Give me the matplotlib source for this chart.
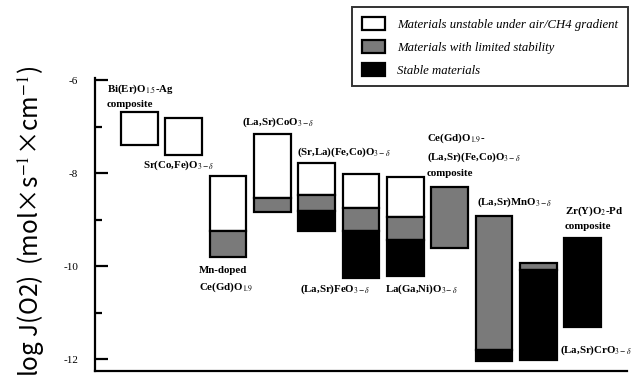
import numpy as np
import matplotlib
matplotlib.use("Agg")
import matplotlib.pyplot as plt
from matplotlib.patches import Patch

# ── data ──────────────────────────────────────────────────────────────────────
positions = np.arange(1, 12)
# top of each bar, start of grey part, start of black part, bottom (nan = none)
tops        = [-6.69, -6.81, -8.06, -7.16, -7.78, -8.01, -8.07, -8.29, -8.91, -9.93, -9.38]
grey_starts = [np.nan, np.nan, -9.25, -8.53, -8.46, -8.74, -8.93, -8.29, -8.91, -9.93, np.nan]
black_starts = [np.nan, np.nan, np.nan, np.nan, -8.82, -9.25, -9.44, np.nan, -11.80, -10.08, -9.38]
bottoms     = [-7.39, -7.60, -9.79, -8.83, -9.23, -10.24, -10.21, -9.60, -12.04, -12.02, -11.30]

labels = [
    "Bi(Er)O$_{1.5}$-Ag\ncomposite",
    "Sr(Co,Fe)O$_{3-\\delta}$",
    "Mn-doped\nCe(Gd)O$_{1.9}$",
    "(La,Sr)CoO$_{3-\\delta}$",
    "(Sr,La)(Fe,Co)O$_{3-\\delta}$",
    "(La,Sr)FeO$_{3-\\delta}$",
    "La(Ga,Ni)O$_{3-\\delta}$",
    "Ce(Gd)O$_{1.9}$-\n(La,Sr)(Fe,Co)O$_{3-\\delta}$\ncomposite",
    "(La,Sr)MnO$_{3-\\delta}$",
    "(La,Sr)CrO$_{3-\\delta}$",
    "Zr(Y)O$_2$-Pd\ncomposite",
]
# label anchor (x, y) in data units, text centred vertically on it
label_x = [0.27, 1.08, 2.35, 3.32, 4.55, 4.62, 6.54, 7.49, 8.62, 10.49, 10.6]
label_y = [-6.33, -7.82, -10.3, -6.9, -7.55, -10.5, -10.5, -7.6, -8.62, -11.8, -8.95]

legend_labels = [
    "Materials unstable under air/CH4 gradient",
    "Materials with limited stability",
    "Stable materials",
]

yticks = [-6, -8, -10, -12]
colors = ["white", "#7a7a7a", "black"]

# ── figure ────────────────────────────────────────────────────────────────────
plt.rcParams["mathtext.fontset"] = "stix"
fig = plt.figure(figsize=(6.43, 3.82), dpi=100)
ax = fig.add_axes([95 / 643, 11 / 382, (627 - 95) / 643, (371 - 78) / 382])

w = 0.82
for x, t, g, b, bot in zip(positions, tops, grey_starts, black_starts, bottoms):
    # white part
    white_end = g if not np.isnan(g) else (b if not np.isnan(b) else bot)
    if white_end < t:
        ax.bar(x, t - white_end, bottom=white_end, width=w, color=colors[0],
               edgecolor="black", linewidth=1.6)
    if not np.isnan(g):
        grey_end = b if not np.isnan(b) else bot
        ax.bar(x, g - grey_end, bottom=grey_end, width=w, color=colors[1],
               edgecolor="black", linewidth=1.6)
    if not np.isnan(b):
        ax.bar(x, b - bot, bottom=bot, width=w, color=colors[2],
               edgecolor="black", linewidth=1.6)

for lab, lx, ly in zip(labels, label_x, label_y):
    ax.text(lx, ly, lab, fontsize=7.8, family="Liberation Serif",
            fontweight="bold", ha="left", va="center", linespacing=1.6)

ax.set_xlim(0, 12)
ax.set_ylim(-12.25, -5.95)
ax.set_yticks(yticks)
ax.set_yticklabels([str(v) for v in yticks], family="Liberation Serif", fontsize=8)
ax.set_yticks([-7, -9, -11], minor=True)
ax.tick_params(axis="y", which="major", direction="in", length=9, width=1.6, pad=12)
ax.tick_params(axis="y", which="minor", direction="in", length=5, width=1.6)
ax.set_xticks([])
for s in ["top", "right"]:
    ax.spines[s].set_visible(False)
ax.spines["left"].set_linewidth(1.6)
ax.spines["bottom"].set_linewidth(1.6)

fig.text(31 / 643, 1 - 221 / 382, "log J(O2)  (mol\u00d7s$^{-1}$\u00d7cm$^{-1}$)",
         rotation=90, ha="center", va="center", fontsize=17.5,
         family=["Noto Sans CJK JP", "DejaVu Sans"])

handles = [Patch(facecolor=c, edgecolor="black", linewidth=1.6) for c in colors]
leg = fig.legend(handles, legend_labels, loc="upper left",
                 bbox_to_anchor=(352 / 643, 1 - 7 / 382), borderaxespad=0,
                 prop={"family": "Liberation Serif", "style": "italic", "size": 9.2},
                 frameon=True, fancybox=False, edgecolor="black",
                 handlelength=1.8, handleheight=1.25, labelspacing=0.7,
                 borderpad=0.75, handletextpad=1.0)
leg.get_frame().set_linewidth(1.4)

fig.savefig("out.png", dpi=100)
